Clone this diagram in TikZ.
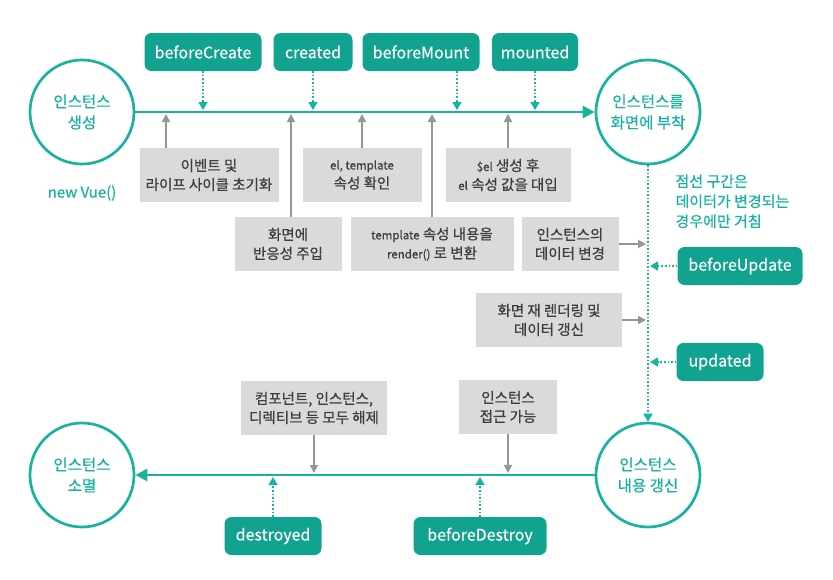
\documentclass[tikz,border=0pt]{standalone}
\usepackage{fontspec}
\setmainfont{Noto Sans CJK KR}[UprightFeatures={FakeBold=0.6}]
\newfontfamily\hookfont{Noto Sans CJK KR}[UprightFeatures={FakeBold=0.2}]
\usetikzlibrary{arrows.meta,positioning,calc}

\definecolor{vueteal}{RGB}{24,178,160}
\definecolor{hookteal}{RGB}{18,163,144}
\definecolor{boxgray}{RGB}{218,218,218}
\definecolor{textgray}{RGB}{62,62,62}
\definecolor{arrowgray}{RGB}{150,150,150}

\tikzset{
  state/.style={circle, draw=vueteal, line width=2.7pt, minimum size=104pt, inner sep=0pt,
    text=vueteal, align=center, font=\fontsize{15.5}{21}\selectfont},
  hook/.style={rounded corners=7pt, fill=hookteal, text=white, minimum height=38pt,
    inner sep=0pt, font=\hookfont\fontsize{16}{18}\selectfont},
  task/.style={fill=boxgray, text=textgray, minimum height=54pt, inner sep=0pt,
    align=center, font=\fontsize{14.5}{19}\selectfont},
  flow/.style={draw=vueteal, line width=2.5pt, -{Triangle[length=12pt,width=12pt]}},
  hookline/.style={draw=vueteal, line width=1.6pt, dotted, -{Triangle[length=8pt,width=9pt]}, shorten >=2pt},
  taskline/.style={draw=arrowgray, line width=1.6pt, -{Triangle[length=8pt,width=8pt]}, shorten >=2pt},
}
\newcommand{\smallfont}{\fontsize{11.5}{19}\selectfont}

\begin{document}
\begin{tikzpicture}[x=1pt,y=-1pt]
    \useasboundingbox (0,0) rectangle (833,579);

    % states
    \node[state] (born) at (82,112) {인스턴스\\생성};
    \node[state] (mount) at (648,112) {인스턴스를\\화면에 부착};
    \node[state] (update) at (648,475) {인스턴스\\내용 갱신};
    \node[state] (dead) at (82,475) {인스턴스\\소멸};
    \node[text=vueteal, font=\fontsize{15}{16}\selectfont] (newvue) at (82,193) {new Vue()};

    \draw[flow] (born) -- (mount);
    \draw[flow] (update) -- (dead);
    \draw[hookline, line width=2.2pt, shorten >=0pt] (mount) -- (update);

    % hooks on top
    \node[hook, minimum width=117pt] (bcreate) at (203,52) {beforeCreate};
    \node[hook, minimum width=79pt] (created) at (313,52) {created};
    \node[hook, minimum width=117pt] (bmount) at (421,52) {beforeMount};
    \node[hook, minimum width=86pt] (mounted) at (535,52) {mounted};
    \coordinate (bmfoot) at ([xshift=36pt]bmount.south);

    \draw[hookline] (bcreate.south) -- (bcreate.south |- born);
    \draw[hookline] (created.south) -- (created.south |- born);
    \draw[hookline] (bmfoot) -- (bmfoot |- born);
    \draw[hookline] (mounted.south) -- (mounted.south |- born);

    % tasks under the line
    \node[task, minimum width=139pt] (init) at (209,175) {이벤트 및\\라이프 사이클 초기화};
    \node[task, minimum width=107pt] (react) at (288,244) {화면에\\반응성 주입};
    \node[task, minimum width=119pt] (check) at (362,175) {{\smallfont el, template}\\속성 확인};
    \node[task, minimum width=163pt] (render) at (432,244) {{\smallfont template} 속성 내용을\\{\smallfont render()} 로 변환};
    \node[task, minimum width=125pt] (assign) at (508,175) {{\smallfont \$el} 생성 후\\{\smallfont el} 속성 값을 대입};
    \coordinate (inittop) at ([xshift=-43pt]init.north);
    \coordinate (reacttop) at ([xshift=3pt]react.north);

    \draw[taskline] (inittop) -- (inittop |- born);
    \draw[taskline] (reacttop) -- (reacttop |- born);
    \draw[taskline] (check.north) -- (check.north |- born);
    \draw[taskline] (render.north) -- (render.north |- born);
    \draw[taskline] (assign.north) -- (assign.north |- born);

    % update loop
    \node[task, minimum width=97pt] (change) at (570,244) {인스턴스의\\데이터 변경};
    \node[task, minimum width=146pt] (rerender) at (549,320) {화면 재 렌더링 및\\데이터 갱신};
    \node[hook, minimum width=125pt] (bupdate) at (740,266) {beforeUpdate};
    \node[hook, minimum width=87pt] (updated) at (720,362) {updated};
    \node[text=vueteal, align=left, anchor=north west, font=\fontsize{15}{20}\selectfont] (note) at (672,171)
        {점선 구간은\\데이터가 변경되는\\경우에만 거침};

    \draw[taskline] (change.east) -- (change.east -| mount);
    \draw[taskline] (rerender.east) -- (rerender.east -| mount);
    \draw[hookline] (bupdate.west) -- (bupdate.west -| mount);
    \draw[hookline] (updated.west) -- (updated.west -| mount);

    % teardown
    \node[task, minimum width=146pt] (release) at (314,408) {컴포넌트, 인스턴스,\\디렉티브 등 모두 해제};
    \node[task, minimum width=98pt] (access) at (508,407) {인스턴스\\접근 가능};
    \node[hook, minimum width=97pt] (destroyed) at (273,536) {destroyed};
    \node[hook, minimum width=133pt] (bdestroy) at (480,536) {beforeDestroy};

    \draw[taskline] (release.south) -- (release.south |- dead);
    \draw[taskline] (access.south) -- (access.south |- dead);
    \draw[hookline] (destroyed.north) -- (destroyed.north |- dead);
    \draw[hookline] (bdestroy.north) -- (bdestroy.north |- dead);
\end{tikzpicture}
\end{document}
